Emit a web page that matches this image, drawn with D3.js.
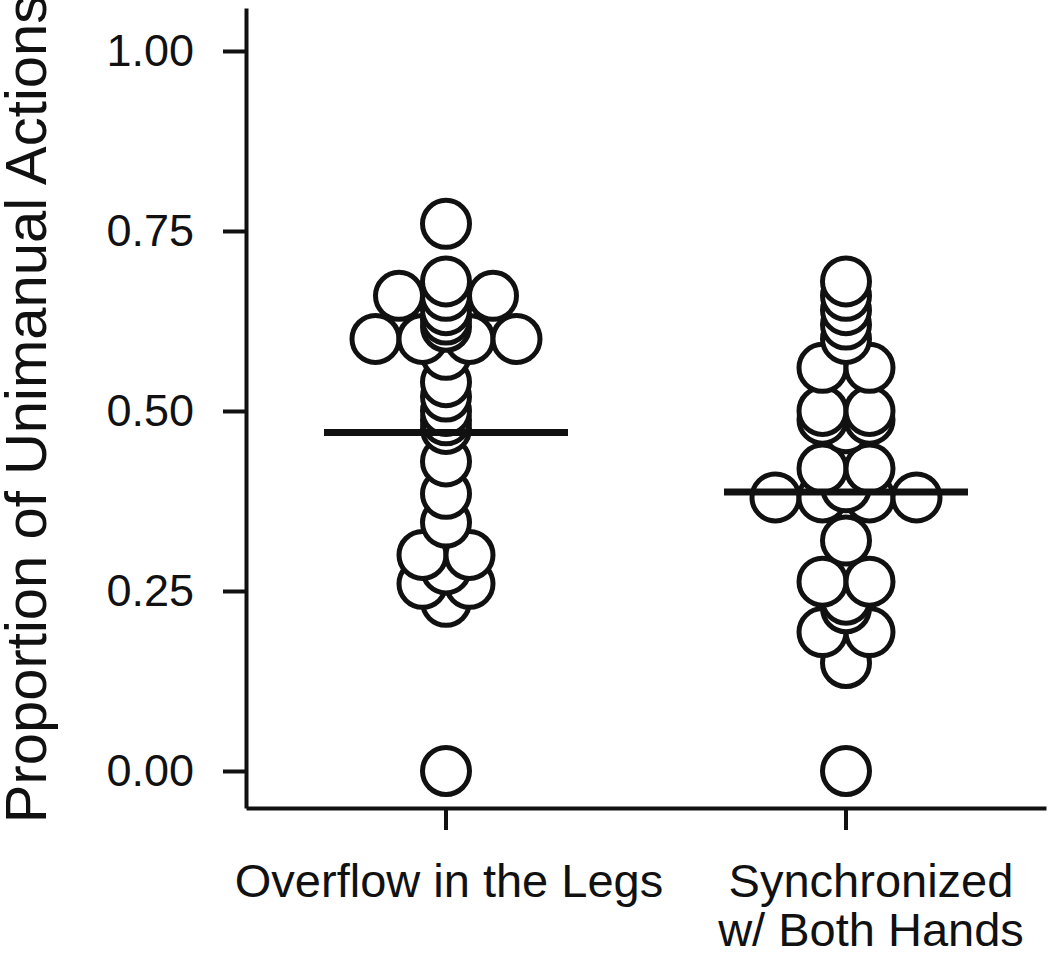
<!DOCTYPE html>
<html><head><meta charset="utf-8">
<script src="https://cdn.jsdelivr.net/npm/d3@7"></script>
<style>body{margin:0;background:#fff}svg{display:block}</style>
</head><body><svg id="c" width="1050" height="955"></svg>
<script>
// ---- data ----
const categories = ["Overflow in the Legs", "Synchronized|w/ Both Hands"];
const overflowLegs = [0.00, 0.235, 0.26, 0.26, 0.28, 0.30, 0.30, 0.345, 0.385, 0.43,
  0.475, 0.487, 0.50, 0.52, 0.54, 0.578, 0.60, 0.60, 0.60, 0.60,
  0.617, 0.627, 0.64, 0.66, 0.66, 0.66, 0.68, 0.76];
const synchronizedHands = [0.00, 0.15, 0.193, 0.193, 0.226, 0.238, 0.263, 0.263, 0.32,
  0.38, 0.38, 0.38, 0.38, 0.394, 0.42, 0.42, 0.476, 0.488, 0.488, 0.50, 0.50,
  0.56, 0.56, 0.60, 0.62, 0.64, 0.66, 0.68];
const groupLines = [0.47, 0.3875];
const yTicks = [0, 0.25, 0.5, 0.75, 1];
const yTickLabels = ["0.00", "0.25", "0.50", "0.75", "1.00"];
const yTitle = "Proportion of Unimanual Actions";
const binWidth = 0.008;

// ---- layout ----
const svg = d3.select("#c");
const font = "'Liberation Sans', Arial, Helvetica, sans-serif";
const y = d3.scaleLinear().domain([-0.0514, 1.0597]).range([808, 8]);
const x = d3.scaleBand().domain(categories).range([246, 1046]).padding(0);
const R = 23.5, D = 47;

// dot-density binning (as ggplot2 geom_dotplot)
function binDots(vals) {
  const s = vals.slice().sort((a, b) => a - b);
  const bins = []; let end = -Infinity, cur = null;
  s.forEach(v => {
    if (v >= end) { cur = []; bins.push(cur); end = v + binWidth; }
    cur.push(v);
  });
  const pts = [];
  bins.forEach(b => {
    const c = (d3.min(b) + d3.max(b)) / 2, n = b.length;
    b.forEach((v, i) => pts.push({ v: c, off: i - (n - 1) / 2 }));
  });
  return pts;
}

const groups = [overflowLegs, synchronizedHands];

// y axis
const ya = d3.axisLeft(y).tickValues(yTicks).tickFormat((d, i) => yTickLabels[i])
  .tickSize(23).tickSizeOuter(0).tickPadding(29);
const gy = svg.append("g").attr("transform", "translate(246,0)").call(ya);
gy.select(".domain").attr("stroke", "#111").attr("stroke-width", 4);
gy.selectAll(".tick line").attr("stroke", "#111").attr("stroke-width", 4);
gy.selectAll(".tick text").attr("font-family", font).attr("font-size", 45).attr("fill", "#111");

// x axis
const xa = d3.axisBottom(x).tickSize(22).tickSizeOuter(0).tickFormat("");
const gx = svg.append("g").attr("transform", "translate(0,808)").call(xa);
gx.select(".domain").attr("stroke", "#111").attr("stroke-width", 4);
gx.selectAll(".tick line").attr("stroke", "#111").attr("stroke-width", 4);
gx.selectAll(".tick").append("text").attr("font-family", font).attr("font-size", 47)
  .attr("fill", "#111").attr("text-anchor", "middle")
  .attr("transform", (d, i) => `translate(${i === 1 ? 25 : 3},0)`)
  .selectAll("tspan").data(d => d.split("|")).join("tspan")
  .attr("x", 0).attr("y", (d, i) => 89 + i * 49).text(d => d);

// y title
svg.append("text").attr("font-family", font).attr("font-size", 58).attr("fill", "#111")
  .attr("text-anchor", "middle")
  .attr("transform", `translate(46,409) rotate(-90)`).text(yTitle);

// dots
groups.forEach((vals, gi) => {
  const cx = x(categories[gi]) + x.bandwidth() / 2;
  const pts = binDots(vals);
  svg.append("g").selectAll("circle").data(pts).join("circle")
    .attr("cx", d => cx + d.off * D).attr("cy", d => y(d.v)).attr("r", R)
    .attr("fill", "#fff").attr("stroke", "#111").attr("stroke-width", 5);
  svg.append("line").attr("x1", cx - 122).attr("x2", cx + 122)
    .attr("y1", y(groupLines[gi])).attr("y2", y(groupLines[gi]))
    .attr("stroke", "#111").attr("stroke-width", 7);
});
</script></body></html>
